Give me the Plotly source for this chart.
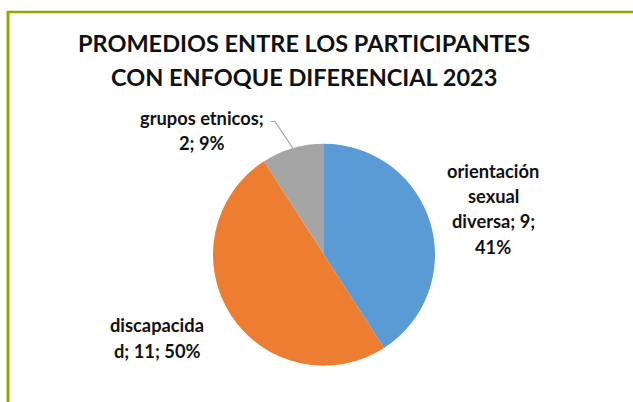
import math
import plotly.graph_objects as go

# ---- data ----
categories = ["orientación sexual diversa", "discapacidad", "grupos etnicos"]
values = [9, 11, 2]
colors = ["#5B9BD5", "#ED7D31", "#A5A5A5"]
# how Excel wrapped each data label (break points in the "name; value; pct" string)
label_lines_split = [
    ["orientación", "sexual", "diversa; {v};", "{p}"],
    ["discapacida", "d; {v}; {p}"],
    ["grupos etnicos;", "{v}; {p}"],
]
title_lines = ["PROMEDIOS ENTRE LOS PARTICIPANTES", "CON ENFOQUE DIFERENCIAL 2023"]

W, H = 633, 402
total = sum(values)
pcts = [f"{round(v / total * 100)}%" for v in values]

# pie geometry (pixels)
cx, cy, r = 324.0, 254.7, 111.0

def px(x):
    return x / W

def py(y):
    return 1 - y / H

fig = go.Figure()
fig.add_trace(go.Pie(
    labels=categories,
    values=values,
    sort=False,
    direction="clockwise",
    rotation=0,
    marker=dict(colors=colors, line=dict(width=0)),
    textinfo="none",
    hoverinfo="label+value+percent",
    showlegend=False,
    domain=dict(x=[px(cx - r), px(cx + r)], y=[py(cy + r), py(cy - r)]),
))

FONT = "Lato"
TXT = "#111111"

# label placement (pixel centers of first line, line spacing)
label_pos = [(493, 171, 25.2), (157, 325, 26), (202, 118, 24.5)]
annotations = []
for i, (lines, (lx, ly, sp)) in enumerate(zip(label_lines_split, label_pos)):
    for j, ln in enumerate(lines):
        annotations.append(dict(
            x=px(lx), y=py(ly + j * sp), xref="paper", yref="paper",
            text=f"<b>{ln.format(v=values[i], p=pcts[i])}</b>", showarrow=False,
            xanchor="center", yanchor="middle",
            font=dict(family=FONT, size=18.3, color=TXT, weight="bold"),
        ))

# title lines
for j, t in enumerate(title_lines):
    annotations.append(dict(
        x=px(304), y=py(43 + j * 33.5), xref="paper", yref="paper",
        text=t, showarrow=False, xanchor="center", yanchor="middle",
        font=dict(family=FONT, size=23.5, color="#111111", weight="bold"),
    ))

# leader line for the small slice: to its mid-angle point on the rim
start = sum(values[:2])
mid_frac = (start + values[2] / 2) / total
theta = 2 * math.pi * mid_frac
ex = cx + r * math.sin(theta)
ey = cy - r * math.cos(theta)
shapes = [
    dict(type="path", xref="paper", yref="paper",
         path=f"M {px(271)} {py(121.5)} L {px(275)} {py(121.5)} L {px(ex)} {py(ey)}",
         line=dict(color="#A6A6A6", width=1.2)),
    # chart frame (top and left borders)
    dict(type="line", xref="paper", yref="paper", x0=px(7), x1=1.0, y0=py(12), y1=py(12),
         line=dict(color="#94A600", width=2.5)),
    dict(type="line", xref="paper", yref="paper", x0=px(8), x1=px(8), y0=py(11), y1=0,
         line=dict(color="#94A600", width=3)),
]

fig.update_layout(
    width=W, height=H,
    margin=dict(l=0, r=0, t=0, b=0),
    paper_bgcolor="white", plot_bgcolor="white",
    annotations=annotations, shapes=shapes,
)

fig.write_html(
    "out.html",
    config={"displayModeBar": False},
    post_script="document.body.style.margin='0';document.body.style.padding='0';",
)
